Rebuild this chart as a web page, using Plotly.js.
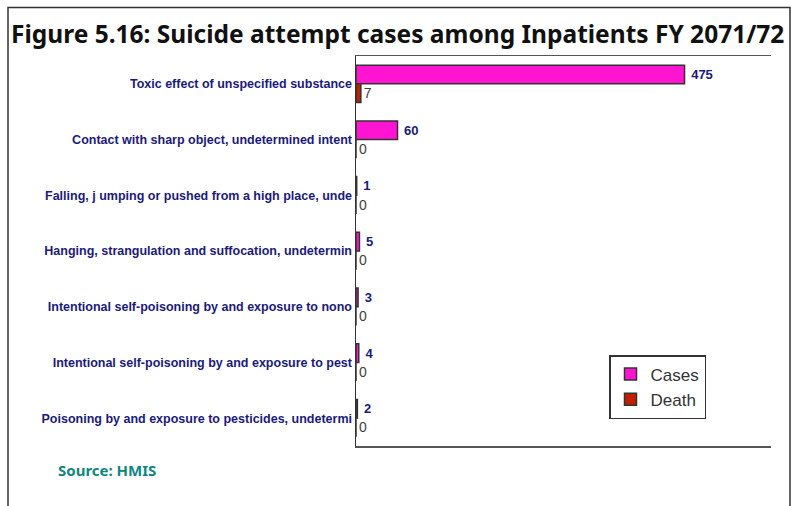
<!DOCTYPE html>
<html><head><meta charset="utf-8">
<script src="https://cdn.plot.ly/plotly-3.0.1.min.js"></script>
<style>html,body{margin:0;padding:0;background:#fff;}#chart{width:791px;height:506px;}</style>
</head><body><div id="chart"></div>
<script>
var categories = [
  "Toxic effect of unspecified substance",
  "Contact with sharp object, undetermined intent",
  "Falling, j umping or pushed from a high place, unde",
  "Hanging, strangulation and suffocation, undetermin",
  "Intentional self-poisoning by and exposure to nono",
  "Intentional self-poisoning by and exposure to pest",
  "Poisoning by and exposure to pesticides, undetermi"
];
var cases = [475, 60, 1, 5, 3, 4, 2];
var deaths = [7, 0, 0, 0, 0, 0, 0];

var L = 356, R = 771, T = 56, B = 446, W = 791, H = 506;
var pw = R - L, ph = B - T;
function px(x){ return (x - L) / pw; }
function py(y){ return (B - y) / ph; }

var traces = [
  {type:'bar', orientation:'h', name:'Cases', y:categories, x:cases,
   marker:{color:'#ff14d2', line:{color:'#333333', width:1.5}},
   text:cases.map(function(v){return ' ' + v;}), textposition:'outside', cliponaxis:false,
   textfont:{family:'Arial, Liberation Sans', size:13, color:'#1a1a80', weight:'bold'}},
  {type:'bar', orientation:'h', name:'Death', y:categories, x:deaths,
   marker:{color:'#c02000', line:{color:'#333333', width:1.5}},
   text:deaths.map(String), textposition:'outside', cliponaxis:false,
   textfont:{family:'Arial, Liberation Sans', size:14, color:'#404040'}}
];

var layout = {
  width:W, height:H,
  margin:{l:L, r:W-R, t:T, b:H-B, pad:0},
  paper_bgcolor:'#ffffff', plot_bgcolor:'#ffffff',
  barmode:'group', bargap:0.33, bargroupgap:0,
  showlegend:true,
  legend:{x:px(609), y:py(355), xanchor:'left', yanchor:'top',
    bgcolor:'#ffffff', bordercolor:'#333333', borderwidth:1.5,
    traceorder:'normal', itemwidth:30, tracegroupgap:0,
    font:{family:'Arial, Liberation Sans', size:17, color:'#333333'}},
  xaxis:{range:[0,600], showgrid:false, zeroline:false, showticklabels:false,
    ticks:'', showline:true, mirror:true, linecolor:'#555555', linewidth:1.5, fixedrange:true},
  yaxis:{autorange:'reversed', type:'category', showgrid:false, zeroline:false,
    ticks:'', showline:true, linecolor:'#333333', linewidth:1.5, ticklabelstandoff:0,
    tickfont:{family:'Arial, Liberation Sans', size:12.5, color:'#1a1a80', weight:'bold'}},
  shapes:[
    {type:'rect', xref:'paper', yref:'paper', x0:px(8), x1:px(790), y0:py(520), y1:py(7.5),
     line:{color:'#333333', width:1.5}, fillcolor:'rgba(0,0,0,0)', layer:'below'}
  ],
  annotations:[
    {xref:'paper', yref:'paper', x:px(9), y:py(33), xanchor:'left', yanchor:'middle',
     showarrow:false, text:'Figure 5.16: Suicide attempt cases among Inpatients FY 2071/72',
     font:{family:'Noto Sans, Open Sans', size:24.5, color:'#111111', weight:'bold'}},
    {xref:'paper', yref:'paper', x:px(56), y:py(470), xanchor:'left', yanchor:'middle',
     showarrow:false, text:'Source: HMIS',
     font:{family:'Noto Sans, Open Sans', size:15, color:'#0e8780', weight:'bold'}}
  ]
};
Plotly.newPlot('chart', traces, layout, {displayModeBar:false, staticPlot:true});
</script></body></html>
